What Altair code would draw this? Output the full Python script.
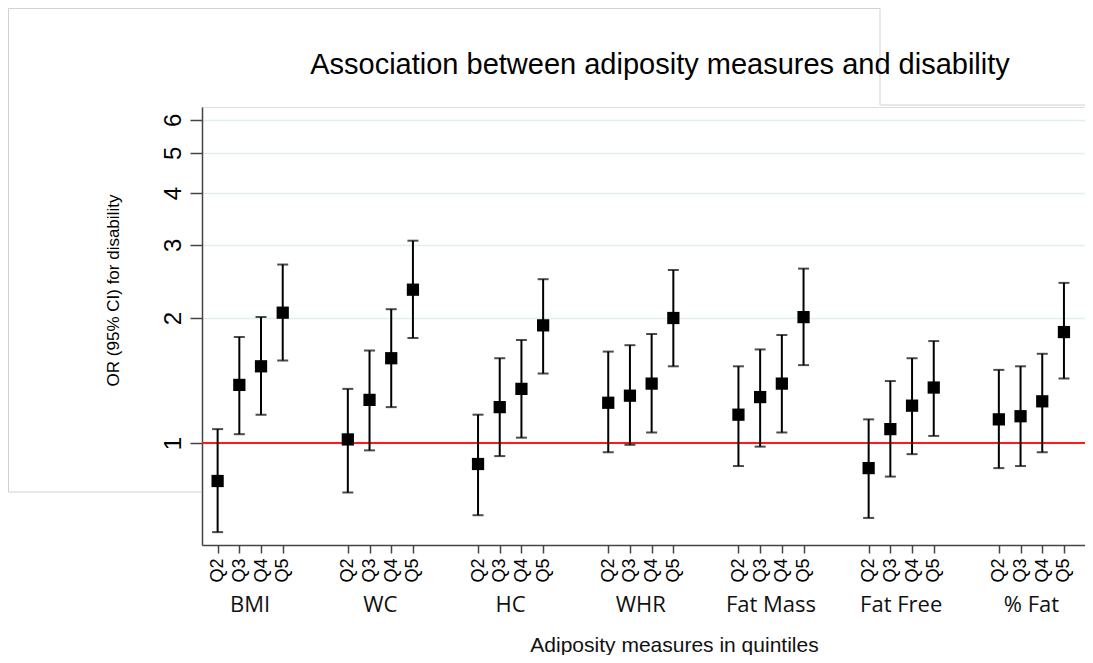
import altair as alt
import pandas as pd

# ---- data ----
groups = ["BMI", "WC", "HC", "WHR", "Fat Mass", "Fat Free", "% Fat"]
quintiles = ["Q2", "Q3", "Q4", "Q5"]

or_bmi = [0.81, 1.38, 1.53, 2.06]
lo_bmi = [0.61, 1.05, 1.17, 1.58]
hi_bmi = [1.08, 1.80, 2.01, 2.69]

or_wc = [1.02, 1.27, 1.60, 2.34]
lo_wc = [0.76, 0.96, 1.22, 1.79]
hi_wc = [1.35, 1.67, 2.10, 3.07]

or_hc = [0.89, 1.22, 1.35, 1.92]
lo_hc = [0.67, 0.93, 1.03, 1.47]
hi_hc = [1.17, 1.60, 1.77, 2.48]

or_whr = [1.25, 1.30, 1.39, 2.00]
lo_whr = [0.95, 0.99, 1.06, 1.53]
hi_whr = [1.66, 1.72, 1.83, 2.61]

or_fm = [1.17, 1.29, 1.39, 2.01]
lo_fm = [0.88, 0.98, 1.06, 1.54]
hi_fm = [1.53, 1.68, 1.82, 2.63]

or_ff = [0.87, 1.08, 1.23, 1.36]
lo_ff = [0.66, 0.83, 0.94, 1.04]
hi_ff = [1.14, 1.41, 1.60, 1.76]

or_pf = [1.14, 1.16, 1.26, 1.85]
lo_pf = [0.87, 0.88, 0.95, 1.43]
hi_pf = [1.50, 1.53, 1.64, 2.43]

y_ticks = [1, 2, 3, 4, 5, 6]
ref_value = [1.0]

title_text = "Association between adiposity measures and disability"
x_title = "Adiposity measures in quintiles"
y_title = "OR (95% CI) for disability"

ors = [or_bmi, or_wc, or_hc, or_whr, or_fm, or_ff, or_pf]
los = [lo_bmi, lo_wc, lo_hc, lo_whr, lo_fm, lo_ff, lo_pf]
his = [hi_bmi, hi_wc, hi_hc, hi_whr, hi_fm, hi_ff, hi_pf]

rows = []
for gi, g in enumerate(groups):
    for qi, q in enumerate(quintiles):
        rows.append({"group": g, "q": q, "pos": gi * 6 + qi,
                     "or": ors[gi][qi], "lo": los[gi][qi], "hi": his[gi][qi]})
df = pd.DataFrame(rows)
gdf = pd.DataFrame({"group": groups, "center": [gi * 6 + 1.5 for gi in range(len(groups))]})
positions = list(df["pos"])

FONT = "Liberation Sans"

xscale = alt.Scale(domain=[-0.72, 39.97], nice=False, zero=False)
yscale = alt.Scale(type="log", domain=[0.568, 6.444], nice=False)

xaxis = alt.Axis(values=positions, labelExpr="'Q' + (datum.value % 6 + 2)",
                 labelAngle=270, labelAlign="right", labelBaseline="middle",
                 labelPadding=5, tickSize=8, tickColor="#444", tickWidth=1.5,
                 domainColor="#444", domainWidth=1.5, grid=False,
                 labelFont=FONT, labelFontSize=18, labelColor="black",
                 labelOverlap=False, labelFlush=False,
                 title=x_title, titleFont=FONT,
                 titleFontSize=21, titleFontWeight="normal", titleColor="#111",
                 titleX=472, titleY=106, titleAlign="center", titleBaseline="alphabetic")

yaxis = alt.Axis(values=y_ticks, format="d", labelAngle=270, labelAlign="center",
                 labelBaseline="alphabetic", labelPadding=10, tickSize=12,
                 tickColor="#444", tickWidth=1.5, domainColor="#444", domainWidth=1.5,
                 grid=True, gridColor="#e2eef0", gridWidth=1.5,
                 labelFont=FONT, labelFontSize=24, labelColor="black",
                 labelOverlap=False, labelFlush=False,
                 title=y_title, titleFont=FONT, titleFontSize=17,
                 titleFontWeight="normal", titleColor="black", titleAngle=270,
                 titleX=-89, titleY=183, titleAlign="center", titleBaseline="middle")


def X(field):
    return alt.X(field, scale=xscale, axis=xaxis)


def Y(field):
    return alt.Y(field, scale=yscale, axis=yaxis)


base = alt.Chart(df)

redline = alt.Chart(pd.DataFrame({"ref": ref_value})).mark_rule(
    color="#ff1a1a", strokeWidth=2).encode(y=Y("ref:Q"))

bars = base.mark_rule(color="black", strokeWidth=2).encode(
    x=X("pos:Q"), y=Y("lo:Q"), y2="hi:Q")
cap_lo = base.mark_tick(color="black", thickness=2, size=11, orient="horizontal").encode(
    x=X("pos:Q"), y=Y("lo:Q"))
cap_hi = base.mark_tick(color="black", thickness=2, size=11, orient="horizontal").encode(
    x=X("pos:Q"), y=Y("hi:Q"))
points = base.mark_square(size=150, color="black", opacity=1, filled=True).encode(
    x=X("pos:Q"), y=Y("or:Q"))

glabels = alt.Chart(gdf).mark_text(font="Open Sans", fontSize=22, color="#111",
                                   baseline="middle", align="center").encode(
    x=X("center:Q"), y=alt.value(498), text="group:N")

one = pd.DataFrame({"a": [0]})

title_mark = alt.Chart(one).mark_text(text=title_text, font=FONT, fontSize=29,
                                      color="black", align="center",
                                      baseline="alphabetic").encode(
    x=alt.value(458), y=alt.value(-33))


def frame_line(x1, x2, y1, y2):
    return alt.Chart(one).mark_rule(color="#d2d2d2", strokeWidth=1).encode(
        x=alt.value(x1), x2=alt.value(x2), y=alt.value(y1), y2=alt.value(y2))


frames = [
    frame_line(-193.5, 678, -98.5, -98.5),
    frame_line(678, 678, -98.5, -2),
    frame_line(678, 883, -2, -2),
    frame_line(-193.5, -193.5, -98.5, 385),
    frame_line(-193.5, 0, 385, 385),
]

chart = alt.layer(redline, bars, cap_lo, cap_hi, points, glabels, *frames, title_mark).properties(
    width=883, height=438,
    autosize=alt.AutoSizeParams(type="none"),
    padding={"left": 194, "top": 99, "right": 0, "bottom": 110},
).configure_view(stroke=None).configure(background="white")

chart.save("out.html", embed_options={"renderer": "svg", "actions": False})
